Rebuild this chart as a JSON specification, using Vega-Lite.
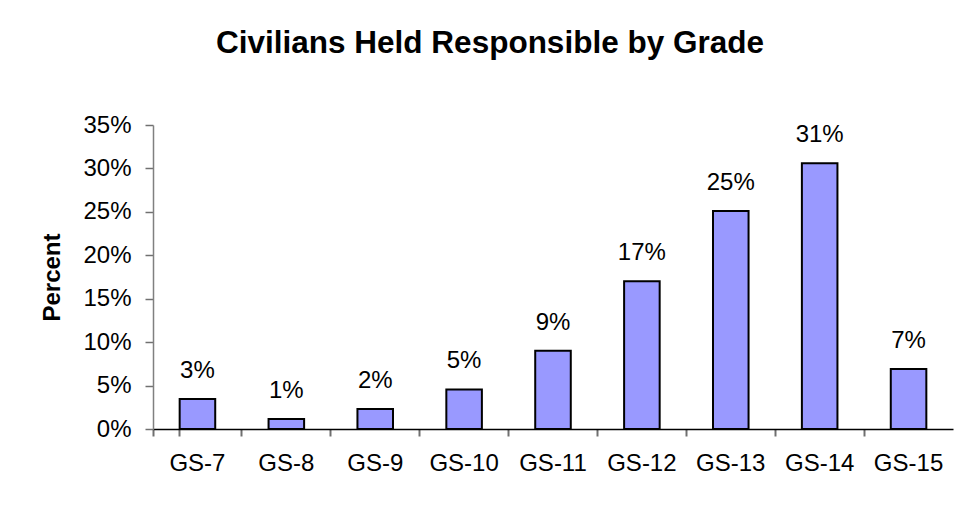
{
  "$schema": "https://vega.github.io/schema/vega-lite/v6.json",
  "width": 800,
  "height": 304,
  "autosize": {"type": "none"},
  "padding": {"left": 153, "top": 125, "right": 16, "bottom": 88},
  "background": "white",
  "title": {
    "text": "Civilians Held Responsible by Grade",
    "font": "Liberation Sans",
    "fontSize": 31.5,
    "fontWeight": "bold",
    "color": "black",
    "anchor": "middle",
    "frame": "group",
    "dx": -63,
    "offset": 29,
    "baseline": "alphabetic"
  },
  "data": {
    "values": [
      {"grade": "GS-7", "pct": 0.0345},
      {"grade": "GS-8", "pct": 0.0115},
      {"grade": "GS-9", "pct": 0.023},
      {"grade": "GS-10", "pct": 0.0456},
      {"grade": "GS-11", "pct": 0.090},
      {"grade": "GS-12", "pct": 0.170},
      {"grade": "GS-13", "pct": 0.251},
      {"grade": "GS-14", "pct": 0.306},
      {"grade": "GS-15", "pct": 0.069}
    ]
  },
  "encoding": {
    "x": {
      "field": "grade",
      "type": "nominal",
      "sort": null,
      "scale": {"paddingInner": 0.6, "paddingOuter": 0.3},
      "axis": {
        "title": null,
        "labelAngle": 0,
        "labelFont": "Liberation Sans",
        "labelFontSize": 24,
        "labelColor": "black",
        "labelPadding": 15,
        "ticks": true,
        "tickSize": 7,
        "tickColor": "#707070",
        "tickWidth": 2,
        "bandPosition": -0.75,
        "tickExtra": true,
        "domainColor": "black",
        "domainWidth": 1.5
      }
    },
    "y": {
      "field": "pct",
      "type": "quantitative",
      "scale": {"domain": [0, 0.35], "nice": false},
      "axis": {
        "title": "Percent",
        "titleFont": "Liberation Sans",
        "titleFontSize": 24,
        "titleFontWeight": "bold",
        "titleColor": "black",
        "titlePadding": 18,
        "values": [0, 0.05, 0.1, 0.15, 0.2, 0.25, 0.3, 0.35],
        "format": ".0%",
        "labelFont": "Liberation Sans",
        "labelFontSize": 24,
        "labelColor": "black",
        "labelPadding": 14,
        "tickSize": 8,
        "tickColor": "#707070",
        "tickWidth": 1.5,
        "domainColor": "#808080",
        "domainWidth": 1.5,
        "grid": false
      }
    }
  },
  "layer": [
    {
      "mark": {"type": "bar", "color": "#9999FF", "stroke": "black", "strokeWidth": 2}
    },
    {
      "mark": {
        "type": "text",
        "font": "Liberation Sans",
        "fontSize": 24,
        "color": "black",
        "baseline": "alphabetic",
        "dy": -21
      },
      "encoding": {
        "text": {"field": "pct", "type": "quantitative", "format": ".0%"}
      }
    }
  ],
  "config": {
    "view": {"stroke": null}
  }
}
